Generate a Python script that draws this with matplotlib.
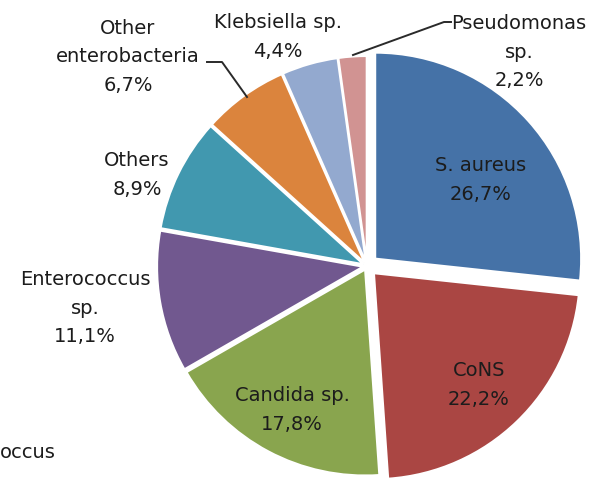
import matplotlib
matplotlib.use("Agg")
import matplotlib.pyplot as plt

labels = ["S. aureus", "CoNS", "Candida sp.", "Enterococcus sp.", "Others",
          "Other enterobacteria", "Klebsiella sp.", "Pseudomonas sp."]
values = [26.7, 22.2, 17.8, 11.1, 8.9, 6.7, 4.4, 2.2]
label_texts = ["S. aureus\n26,7%", "CoNS\n22,2%", "Candida sp.\n17,8%",
               "Enterococcus\nsp.\n11,1%", "Others\n8,9%",
               "Other\nenterobacteria\n6,7%", "Klebsiella sp.\n4,4%",
               "Pseudomonas\nsp.\n2,2%"]
colors = ["#4572A7", "#AA4643", "#89A54E", "#71588F", "#4198AF",
          "#DB843D", "#93A9CF", "#D19392"]
# explode offsets (data units = pixels here)
explode = [11, 10, 4, 4, 4, 4, 4, 4]

W, H = 595, 480
fig = plt.figure(figsize=(W / 100, H / 100), dpi=100)
ax = fig.add_axes([0, 0, 1, 1])

cx, cy, R = 367, 266, 206
ax.pie(values, colors=colors, explode=explode, startangle=90, counterclock=False,
       center=(cx, H - cy), radius=R,
       wedgeprops=dict(edgecolor="white", linewidth=1.5))
ax.set_xlim(0, W)
ax.set_ylim(0, H)
ax.set_aspect("equal")
ax.axis("off")

font = dict(family=["DejaVu Sans"], fontsize=14, color="#1c1c1c",
            ha="center", va="center", linespacing=1.66)

pos = [(481, 180), (479, 385), (292, 410), (85, 308), (137, 175),
       (128, 57), (278, 37), (519, 52)]
for t, (x, y) in zip(label_texts, pos):
    ax.text(x, H - y, t, **font)

# leader lines
ax.plot([207, 222, 247], [H - 62, H - 62, H - 97], color="#2a2a2a", lw=1.4)
ax.plot([451, 444, 353], [H - 22, H - 22, H - 55], color="#2a2a2a", lw=1.4)

# partially cut label at bottom-left
ax.text(0, H - 452, "occus", family=["DejaVu Sans"], fontsize=14,
        color="#1c1c1c", ha="left", va="center")

fig.savefig("out.png", dpi=100)
